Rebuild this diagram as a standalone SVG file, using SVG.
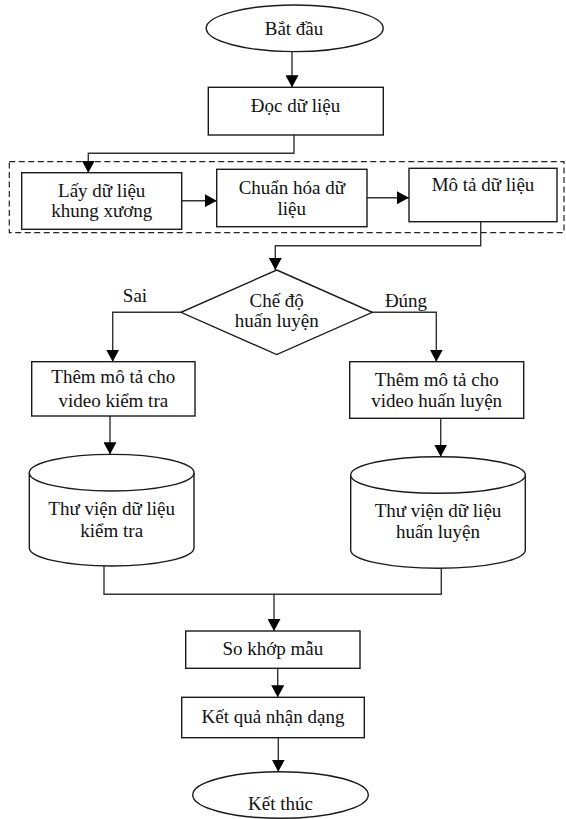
<svg xmlns="http://www.w3.org/2000/svg" width="566" height="819" viewBox="0 0 566 819">
<defs>
<marker id="arr" markerUnits="userSpaceOnUse" markerWidth="13" markerHeight="13" refX="12" refY="6.5" orient="auto">
<path d="M0,0 L12,6.5 L0,13 Z" fill="#000"/>
</marker>
<style>
.shape{fill:#fff;stroke:#1a1a1a;stroke-width:1.4}
.edge{fill:none;stroke:#333;stroke-width:1.4}
.arrow{marker-end:url(#arr)}
.dash{fill:none;stroke:#222;stroke-width:1.2;stroke-dasharray:6 3.5}
text{font-family:"Liberation Serif","Times New Roman",serif;font-size:19px;fill:#111;text-anchor:middle}
</style>
</defs>
<rect width="566" height="819" fill="#fff"/>
<rect class="dash" x="9.3" y="161.7" width="554.7" height="71"/>
<g id="connectors">
<path class="edge arrow" d="M292,51.7 L292,87.3"/>
<path class="edge arrow" d="M294,135 L294,153.3 L88.3,153.3 L88.3,172.7"/>
<path class="edge arrow" d="M181.7,200.7 L216.7,200.7"/>
<path class="edge arrow" d="M367,197.7 L409,197.7"/>
<path class="edge arrow" d="M480.7,221.7 L480.7,245.7 L275.3,245.7 L275.3,270"/>
<path class="edge arrow" d="M181,312.3 L112.7,312.3 L112.7,361.7"/>
<path class="edge arrow" d="M372.3,312.3 L436.3,312.3 L436.3,361.7"/>
<path class="edge arrow" d="M110,416 L110,454.3"/>
<path class="edge arrow" d="M440.7,418.3 L440.7,456.7"/>
<path class="edge" d="M104,566 L104,594.3 L441.3,594.3 L441.3,568.3"/>
<path class="edge arrow" d="M274,594.3 L274,631"/>
<path class="edge arrow" d="M277.7,668.3 L277.7,697.3"/>
<path class="edge arrow" d="M278.3,737.7 L278.3,771.7"/>
<text x="135" y="301.7">Sai</text>
<text x="406" y="306.7">Đúng</text>
</g>
<g id="start">
<ellipse class="shape" cx="294.7" cy="28.3" rx="88.5" ry="23.3"/>
<text x="294" y="35">Bắt đầu</text>
</g>
<g id="read">
<rect class="shape" x="208.3" y="87.3" width="175" height="47.7"/>
<text x="295.5" y="111.7">Đọc dữ liệu</text>
</g>
<g id="skeleton">
<rect class="shape" x="21.7" y="172.7" width="160" height="56.6"/>
<text x="101.7" y="196.5">Lấy dữ liệu</text>
<text x="101.7" y="217">khung xương</text>
</g>
<g id="normalize">
<rect class="shape" x="216.7" y="169.3" width="150.3" height="57.4"/>
<text x="291.8" y="194">Chuẩn hóa dữ</text>
<text x="291.8" y="215">liệu</text>
</g>
<g id="describe">
<rect class="shape" x="409" y="168.3" width="148" height="53.4"/>
<text x="483" y="190.7">Mô tả dữ liệu</text>
</g>
<g id="decision">
<polygon class="shape" points="276.7,270 372.3,312.3 276.7,354.6 181,312.3"/>
<text x="276.7" y="306.5">Chế độ</text>
<text x="276.7" y="327">huấn luyện</text>
</g>
<g id="desc-test">
<rect class="shape" x="31.7" y="361.7" width="163.3" height="54.3"/>
<text x="113.3" y="383.3">Thêm mô tả cho</text>
<text x="113.3" y="406.7">video kiểm tra</text>
</g>
<g id="desc-train">
<rect class="shape" x="349.7" y="361.7" width="174" height="56.6"/>
<text x="436.7" y="385.5">Thêm mô tả cho</text>
<text x="436.7" y="407">video huấn luyện</text>
</g>
<g id="lib-test">
<path class="shape" d="M29.3,472.7 L29.3,547.7 A82.35,18.3 0 0 0 194,547.7 L194,472.7"/>
<ellipse class="shape" cx="111.65" cy="472.7" rx="82.35" ry="18.3"/>
<text x="111.7" y="515">Thư viện dữ liệu</text>
<text x="111.7" y="536.7">kiểm tra</text>
</g>
<g id="lib-train">
<path class="shape" d="M350.7,475 L350.7,550 A87.3,18.3 0 0 0 525.3,550 L525.3,475"/>
<ellipse class="shape" cx="438" cy="475" rx="87.3" ry="18.3"/>
<text x="438" y="516.7">Thư viện dữ liệu</text>
<text x="438" y="538.3">huấn luyện</text>
</g>
<g id="match">
<rect class="shape" x="185.7" y="631" width="174.3" height="37.3"/>
<text x="272.8" y="655">So khớp mẫu</text>
</g>
<g id="result">
<rect class="shape" x="181.7" y="697.3" width="182.6" height="40.4"/>
<text x="273" y="722.7">Kết quả nhận dạng</text>
</g>
<g id="end">
<ellipse class="shape" cx="280.5" cy="795" rx="87.8" ry="23.3"/>
<text x="280.5" y="810">Kết thúc</text>
</g>
</svg>
